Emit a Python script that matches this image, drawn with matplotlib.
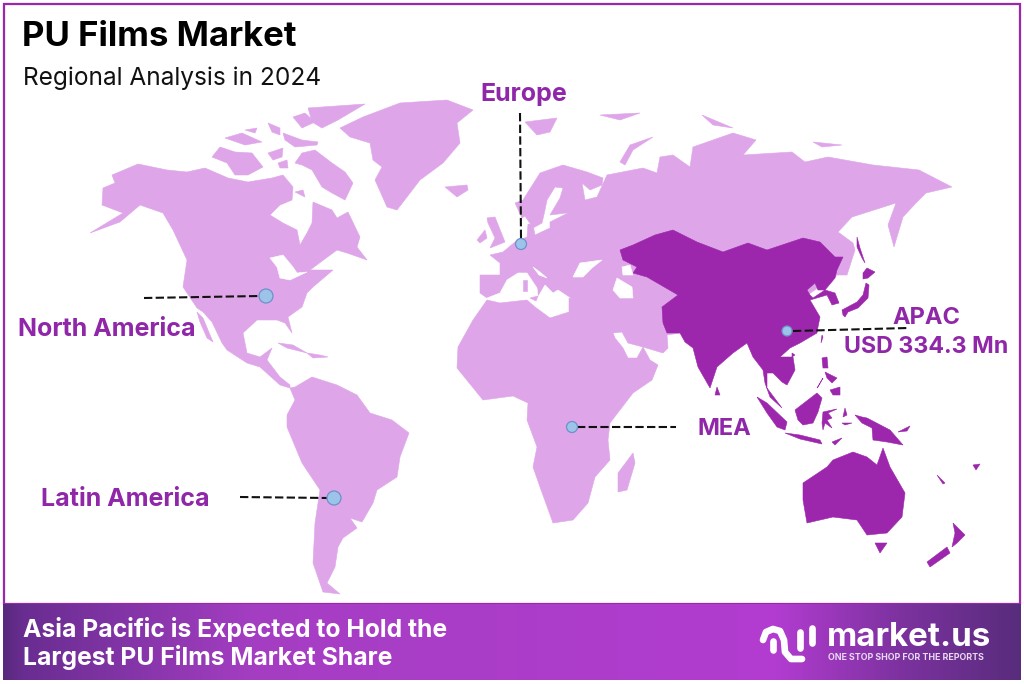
import numpy as np
import matplotlib
matplotlib.use("Agg")
import matplotlib.pyplot as plt
from matplotlib.patches import Polygon, Circle

LIGHT = "#dea6e9"
DARK = "#9c27ac"
LABEL = "#8f27a8"

# region outlines (x, y in image pixels)
north_america = [(112,175),(138,164),(167,170),(187,172),(205,168),(228,178),(248,182),(272,178),(283,175),(293,187),(292,200),(280,205),(270,215),(283,223),(297,230),(300,245),(307,233),(312,223),(313,202),(332,210),(337,218),(348,212),(360,237),(357,247),(367,260),(347,253),(337,250),(310,270),(333,270),(313,287),(307,293),(302,307),(288,317),(292,333),(285,323),(277,320),(257,320),(243,333),(247,353),(260,357),(272,348),(267,360),(280,377),(290,385),(290,388),(280,385),(260,367),(247,363),(227,350),(222,343),(212,322),(203,312),(197,308),(183,287),(187,260),(173,230),(163,213),(140,205),(120,222),(90,233),(123,213),(102,205),(103,188),(115,183)]
great_lakes = [(270,258),(283,255),(293,267),(297,273),(307,272),(290,280),(280,278),(277,267)]
baja = [(197,312),(203,318),(213,342),(207,338),(200,322)]
arctic_islands = [
    [(212,157),(220,147),(235,152),(252,153),(263,167),(248,175),(235,175),(227,163)],
    [(268,153),(283,148),(282,157),(273,160)],
    [(278,163),(287,160),(288,168),(280,168)],
    [(295,163),(302,153),(315,150),(332,163),(345,172),(353,183),(345,200),(332,193),(322,187),(312,170),(302,165)],
    [(225,138),(242,133),(262,142),(245,145)],
    [(245,130),(257,128),(255,133)],
    [(268,123),(280,128),(280,135),(272,132)],
    [(283,133),(302,140),(318,142),(317,145),(295,147),(285,140)],
    [(293,117),(305,113),(315,122),(302,128)],
    [(308,108),(365,104),(338,120),(322,128),(312,122)],
    [(295,192),(303,190),(305,197)],
]
greenland = [(340,128),(363,117),(400,103),(447,100),(473,110),(457,123),(460,143),(443,163),(420,180),(397,210),(387,207),(375,180),(382,167),(373,160),(370,143),(350,137)]
iceland = [(445,187),(467,185),(468,190),(457,197)]
caribbean = [
    [(278,343),(293,345),(307,353),(287,348)],
    [(307,353),(320,355),(328,357),(313,358)],
]
south_america = [(290,388),(295,387),(312,377),(337,385),(357,395),(370,413),(392,420),(409,433),(400,457),(397,477),(377,490),(373,503),(362,522),(350,518),(357,528),(343,538),(338,547),(335,567),(327,583),(340,594),(323,592),(313,563),(315,523),(320,490),(302,463),(287,427),(287,415),(295,400)]
africa_arabia = [(487,300),(500,303),(527,300),(535,307),(550,318),(569,312),(569,298),(600,310),(613,333),(615,338),(623,348),(628,358),(637,358),(643,347),(650,360),(658,365),(652,380),(633,393),(610,423),(608,440),(610,460),(595,477),(588,503),(573,520),(553,523),(540,487),(533,467),(537,447),(527,420),(528,403),(513,396),(483,400),(457,368),(458,347),(473,320)]
madagascar = [(633,453),(635,463),(627,490),(618,492),(618,473)]
eurasia = [(480,293),(480,275),(500,275),(500,263),(490,255),(503,252),(515,242),(527,237),(528,224),(533,225),(535,235),(550,228),(550,222),(570,212),(575,205),(585,200),(597,197),(607,175),(643,168),(657,173),(660,157),(673,155),(690,167),(693,147),(733,133),(756,140),(743,155),(792,152),(805,162),(828,157),(873,165),(919,170),(952,187),(926,193),(916,203),(903,217),(894,247),(888,225),(896,203),(852,217),(838,232),(853,243),(855,250),(847,275),(837,275),(800,300),(700,340),(680,333),(667,335),(668,348),(663,353),(643,347),(628,343),(622,332),(613,333),(600,315),(570,298),(487,298)]
scandinavia = [(515,203),(523,200),(540,173),(563,165),(587,172),(603,178),(602,185),(590,190),(582,183),(585,200),(575,212),(550,215),(560,198),(563,188),(555,187),(547,200),(545,210),(542,223),(533,228),(525,216),(522,218)]
mediterranean = [(487,298),(500,293),(507,280),(518,273),(527,273),(537,288),(538,297),(545,285),(553,293),(558,290),(570,298),(569,312),(550,318),(535,307),(527,300),(500,302)]
adriatic = [(533,267),(540,272),(547,278),(539,275)]
black_sea = [(573,277),(580,263),(602,260),(592,268),(583,277)]
europe_islands = [
    [(487,218),(495,217),(505,242),(490,248),(495,238),(488,223)],
    [(477,240),(485,230),(487,238),(480,243)],
    [(525,122),(557,118),(550,132),(537,135)],
    [(620,162),(630,145),(653,137),(633,150),(625,165)],
    [(600,115),(640,113),(620,120)],
    [(702,115),(733,128),(713,125)],
    [(813,142),(842,145),(822,147)],
    [(523,280),(527,280),(527,291),(523,291)],
    [(530,298),(538,296),(536,301)],
]
asia_core = [(620,250),(633,245),(655,235),(673,230),(697,242),(723,252),(748,243),(767,250),(803,238),(820,242),(835,257),(843,257),(837,270),(835,278),(825,290),(818,290),(815,283),(807,290),(810,295),(813,298),(822,292),(825,290),(835,293),(839,303),(832,305),(827,295),(810,300),(820,317),(818,327),(817,333),(800,343),(790,348),(780,357),(793,357),(795,370),(787,385),(782,382),(773,373),(767,373),(767,388),(782,408),(770,397),(765,383),(763,370),(753,357),(747,343),(733,353),(717,367),(710,388),(698,367),(693,348),(685,342),(680,333),(667,333),(663,323),(662,307),(678,295),(647,277),(633,273),(637,267),(623,260)]
caspian = [(613,290),(617,278),(632,287),(633,298),(620,298)]
aral = [(622,267),(630,265),(633,275),(623,275)]
apac_islands = [
    [(717,387),(720,395),(715,395)],
    [(757,397),(767,403),(787,422),(785,430),(777,427),(767,413)],
    [(785,433),(800,435),(820,440),(822,444),(800,439)],
    [(832,442),(842,438),(835,445)],
    [(795,410),(817,393),(822,398),(818,412),(813,423),(803,425),(798,420)],
    [(823,412),(837,409),(828,413),(832,418),(827,420),(832,428),(825,423),(823,430),(822,423)],
    [(855,415),(862,417),(867,418),(890,430),(903,445),(887,442),(873,440),(872,428),(862,423)],
    [(898,432),(910,426),(907,431)],
    [(822,358),(827,357),(828,368),(823,368)],
    [(825,372),(837,378),(832,383),(827,378)],
    [(830,390),(840,387),(840,395),(833,395)],
    [(817,388),(823,378),(818,387)],
    [(845,408),(847,415),(843,417)],
    [(842,423),(852,423),(845,425)],
    [(792,353),(795,355),(792,357)],
    [(822,335),(823,337),(821,343)],
    [(842,310),(857,302),(863,295),(866,283),(869,285),(868,298),(858,308),(848,312),(845,317),(843,315)],
    [(863,273),(867,268),(875,272),(868,278),(863,279)],
    [(857,237),(860,248),(865,263),(862,258),(857,247)],
    [(875,543),(887,543),(880,553)],
    [(927,562),(947,547),(950,553),(930,567)],
    [(953,523),(965,535),(957,543),(952,547),(955,533)],
    [(937,475),(945,483),(943,484)],
    [(973,465),(980,464),(976,470)],
]
australia = [(803,483),(827,467),(833,460),(853,452),(867,457),(877,465),(883,448),(890,467),(905,493),(902,517),(887,533),(867,535),(857,520),(833,517),(807,523),(803,500)]

# callouts
marker_x = [266, 521, 787, 572, 334]
marker_y = [296, 244, 331, 427, 498]
marker_r = [7, 5.5, 5, 5.5, 7]
leader_x = [(144,260), (520,521), (793,908), (577,676), (240,328)]
leader_y = [(298,296), (113,238), (331,328), (427,427), (497,498)]

labels = ["Europe", "North America", "Latin America", "MEA", "APAC", "USD 334.3 Mn"]
label_x = [524, 107, 125, 724, 926, 926]
label_y = [94, 329, 500, 429, 318, 347]
label_size = [18, 18, 18, 17, 17, 16.7]

footer_lines = ["Asia Pacific is Expected to Hold the", "Largest PU Films Market Share"]
gradient_stops = [0, 0.02, 0.25, 0.76, 0.88, 1]
gradient_r = [88, 105, 165, 178, 125, 88]
gradient_g = [42, 45, 62, 60, 50, 44]
gradient_b = [125, 145, 195, 208, 160, 124]

logo_strokes = [
    [(763,640),(766,632),(773,629),(780,631),(784,640),(785,652),(791,659),(802,659)],
    [(773,641),(773,650)],
    [(800,632),(800,648)],
    [(812,628),(812,643)],
    [(763,648),(763,648)],
]

plt.rcParams["font.family"] = ["Inter", "Open Sans", "DejaVu Sans"]

fig = plt.figure(figsize=(10.24, 6.84), dpi=100)
ax = fig.add_axes([0, 0, 1, 1])


def fill(points, color, z=2):
    ax.add_patch(Polygon(points, closed=True, facecolor=color, edgecolor=color, linewidth=0.4, zorder=z))


# frame
ax.add_patch(plt.Rectangle((3.5, 3.5), 1016.5, 600, facecolor="white", edgecolor=DARK, linewidth=1.6, zorder=1))

# light regions, then the seas cut out of them
fill(eurasia, LIGHT)
fill(mediterranean, "white")
fill(adriatic, "white")
fill(black_sea, "white")
for shape in [north_america, greenland, iceland, south_america, africa_arabia, madagascar, baja, scandinavia] + arctic_islands + caribbean + europe_islands:
    fill(shape, LIGHT)
fill(great_lakes, "white")

# APAC
fill(asia_core, DARK, 3)
fill(caspian, "white", 4)
fill(aral, "white", 4)
fill(australia, DARK, 3)
for shape in apac_islands:
    fill(shape, DARK, 3)

for xs, ys in zip(leader_x, leader_y):
    ax.plot(xs, ys, color="#111111", linewidth=1.5, dashes=(4, 1.6), zorder=5)
for x, y, r in zip(marker_x, marker_y, marker_r):
    ax.add_patch(Circle((x, y), r, facecolor="#9cc4e8", edgecolor="#6f8fcb", linewidth=0.9, zorder=6))

for text, x, y, size in zip(labels, label_x, label_y, label_size):
    ax.text(x, y, text, color=LABEL, fontsize=size, fontweight="bold", ha="center", va="center", zorder=7)

ax.text(22, 37, "PU Films Market", color="black", fontsize=25, fontweight="bold", va="center")
ax.text(23, 78, "Regional Analysis in 2024", color="#111111", fontsize=17.6, va="center")

# footer band
t = np.linspace(0, 1, 1024)
band = np.stack([np.interp(t, gradient_stops, c) for c in (gradient_r, gradient_g, gradient_b)], axis=-1) / 255
ax.imshow(band[None, :, :], extent=(3, 1021, 680, 604), aspect="auto", zorder=2)
ax.text(23, 629, footer_lines[0], color="white", fontsize=17.8, fontweight="bold", va="center", zorder=5)
ax.text(23, 658, footer_lines[1], color="white", fontsize=17.8, fontweight="bold", va="center", zorder=5)
ax.text(827, 637, "market.us", color="white", fontsize=23.8, fontweight="bold", va="center", zorder=5)
ax.text(828, 657, "ONE STOP SHOP FOR THE REPORTS", color="#e9d8f2", fontsize=6.4, fontweight="bold", va="center", zorder=5)

for stroke in logo_strokes:
    xs, ys = zip(*stroke)
    ax.plot(xs, ys, color="white", linewidth=4.8, solid_capstyle="round", solid_joinstyle="round", zorder=5)

ax.set_xlim(0, 1024)
ax.set_ylim(684, 0)
ax.axis("off")

fig.savefig("out.png", dpi=100)
